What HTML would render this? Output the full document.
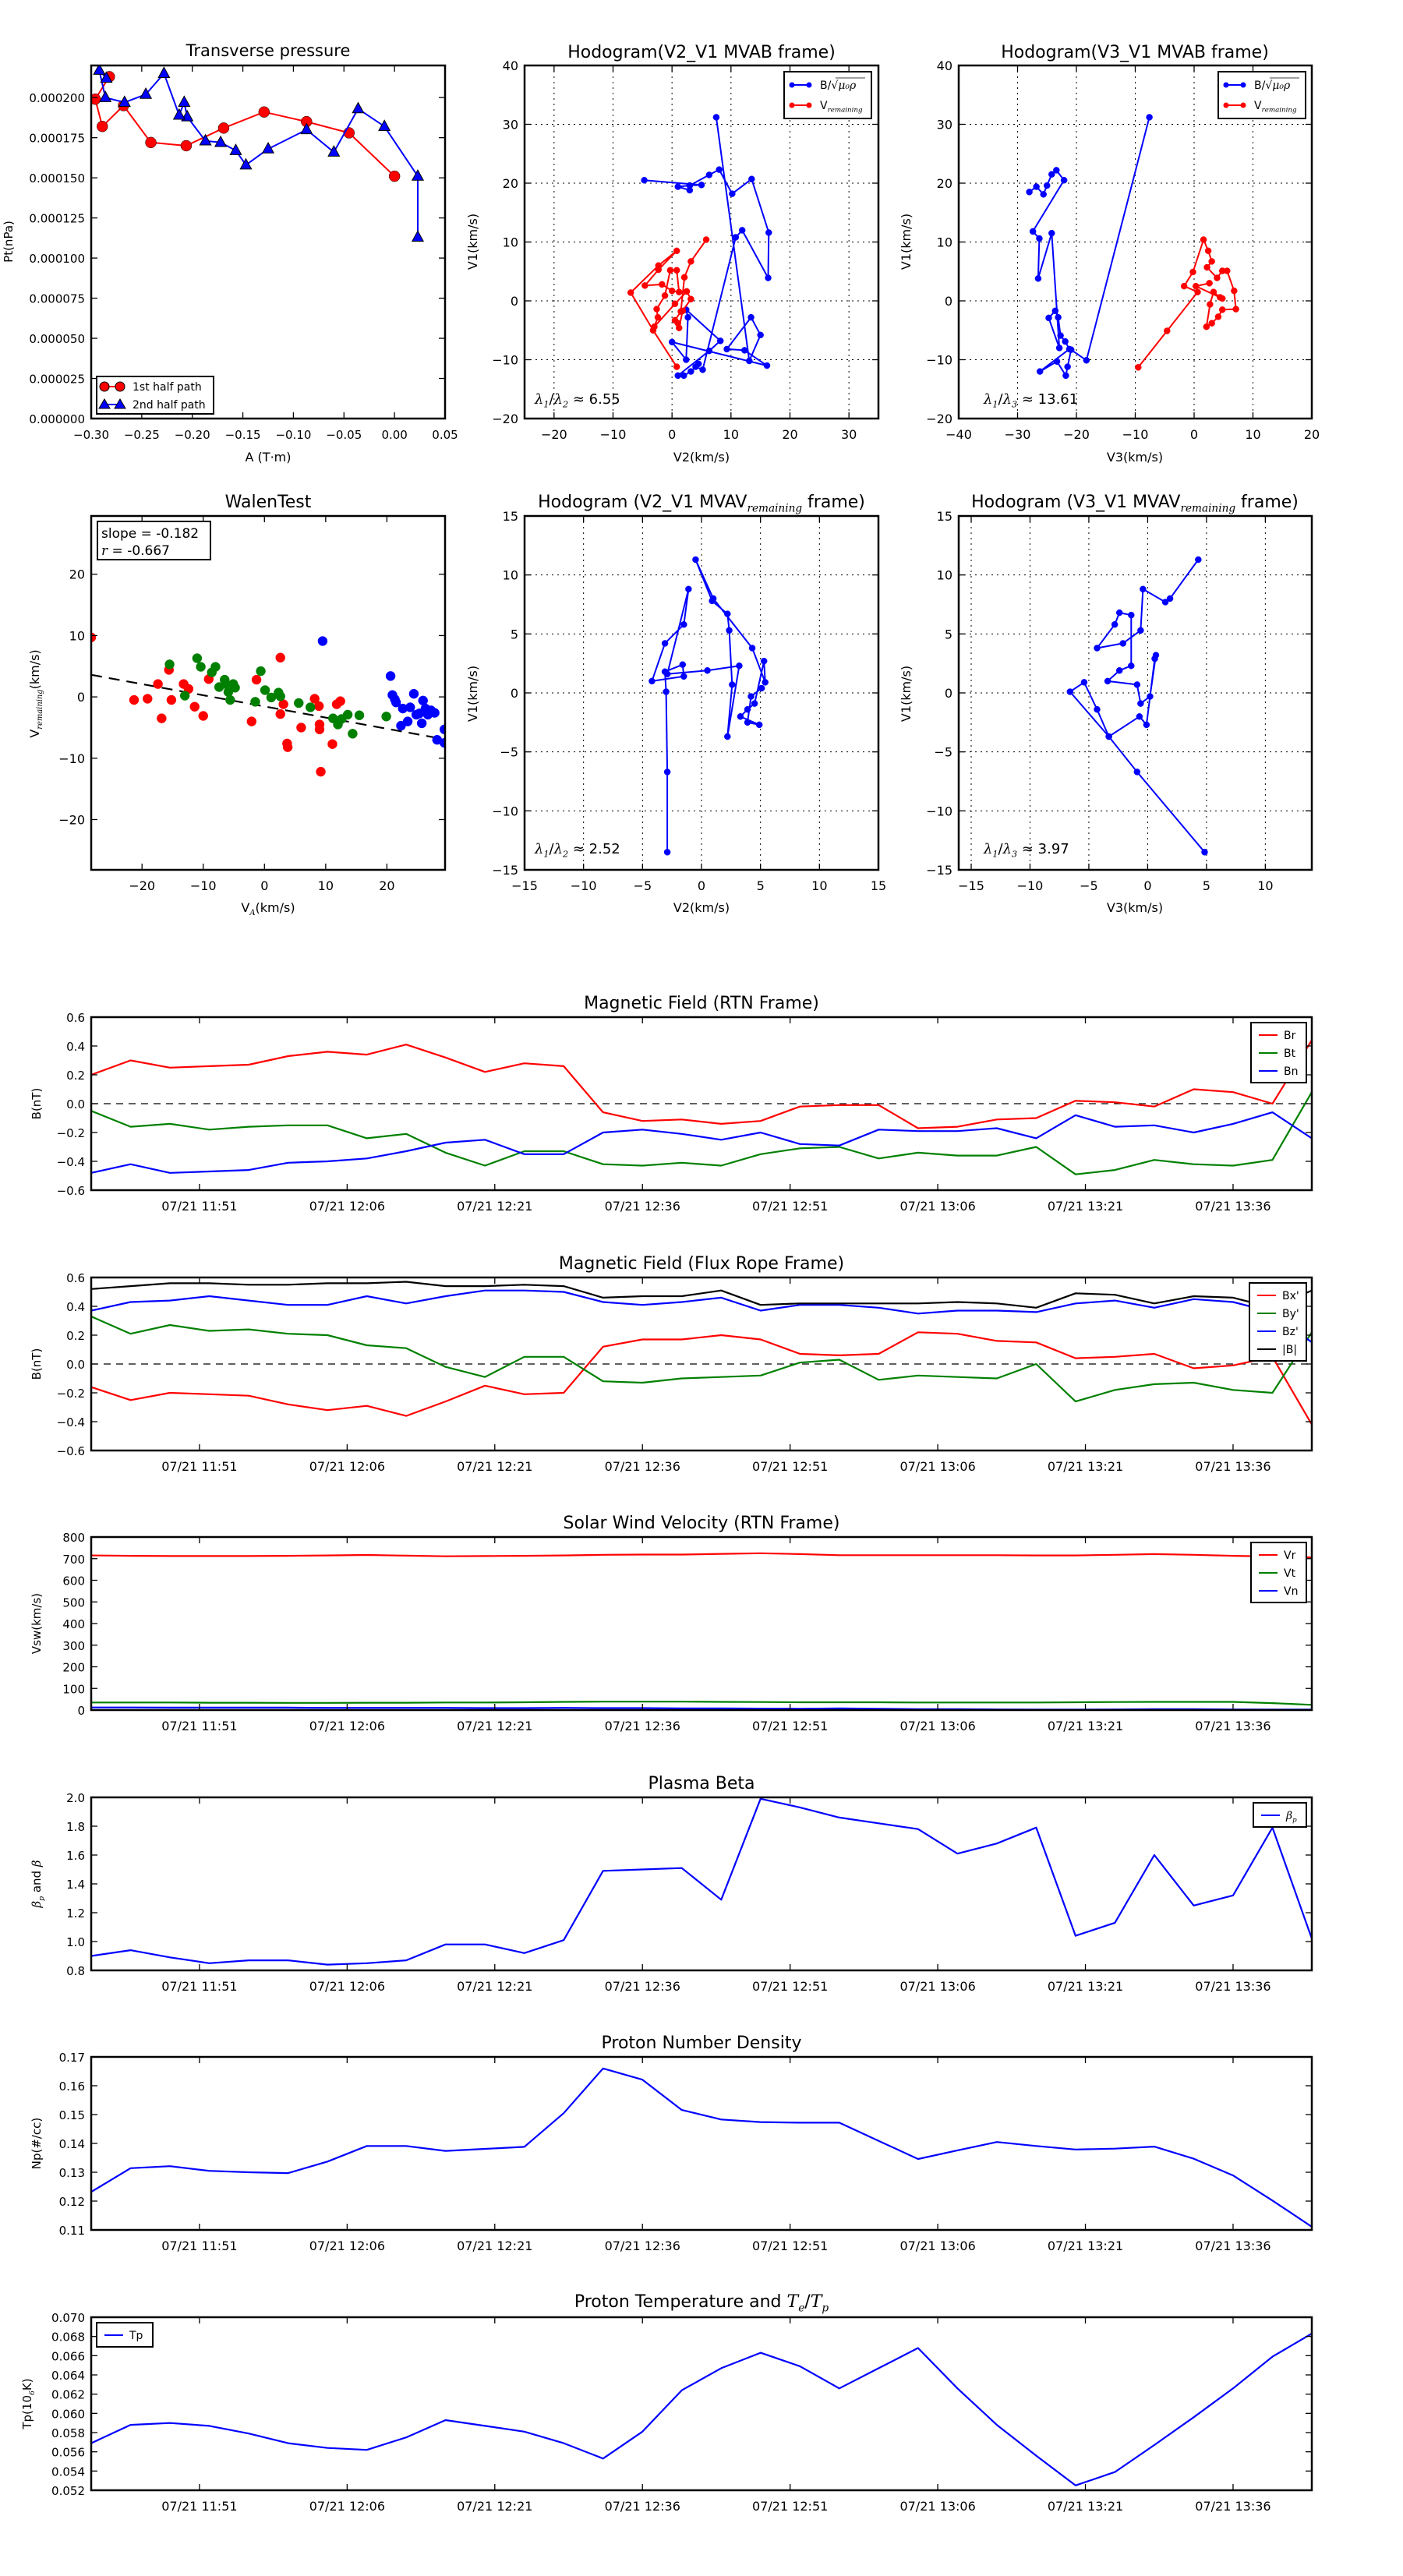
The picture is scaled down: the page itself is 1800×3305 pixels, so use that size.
<!DOCTYPE html>
<html><head><meta charset="utf-8"><title>Flux rope analysis</title>
<style>
html,body{margin:0;padding:0;background:#fff;}
svg text{font-family:"DejaVu Sans","Liberation Sans",sans-serif;fill:#000;}
</style></head>
<body>
<svg id="fig" xmlns="http://www.w3.org/2000/svg" width="1800" height="3300" viewBox="0 0 1800 3300"></svg>
<script>
// ---------- time series data (32 samples every 4 min starting 11:40) ----------
const timeMinutes = [0,4,8,12,16,20,24,28,32,36,40,44,48,52,56,60,64,68,72,76,80,84,88,92,96,100,104,108,112,116,120,124];
const timeTickMinutes = [11,26,41,56,71,86,101,116];
const timeTickLabels = ["07/21 11:51","07/21 12:06","07/21 12:21","07/21 12:36","07/21 12:51","07/21 13:06","07/21 13:21","07/21 13:36"];
const Br = [0.20,0.30,0.25,0.26,0.27,0.33,0.36,0.34,0.41,0.32,0.22,0.28,0.26,-0.06,-0.12,-0.11,-0.14,-0.12,-0.02,-0.01,-0.01,-0.17,-0.16,-0.11,-0.10,0.02,0.01,-0.02,0.10,0.08,0.00,0.44];
const Bt = [-0.05,-0.16,-0.14,-0.18,-0.16,-0.15,-0.15,-0.24,-0.21,-0.34,-0.43,-0.33,-0.33,-0.42,-0.43,-0.41,-0.43,-0.35,-0.31,-0.30,-0.38,-0.34,-0.36,-0.36,-0.30,-0.49,-0.46,-0.39,-0.42,-0.43,-0.39,0.08];
const Bn = [-0.48,-0.42,-0.48,-0.47,-0.46,-0.41,-0.40,-0.38,-0.33,-0.27,-0.25,-0.35,-0.35,-0.20,-0.18,-0.21,-0.25,-0.20,-0.28,-0.29,-0.18,-0.19,-0.19,-0.17,-0.24,-0.08,-0.16,-0.15,-0.20,-0.14,-0.06,-0.24];
const Bxp = [-0.16,-0.25,-0.20,-0.21,-0.22,-0.28,-0.32,-0.29,-0.36,-0.26,-0.15,-0.21,-0.20,0.12,0.17,0.17,0.20,0.17,0.07,0.06,0.07,0.22,0.21,0.16,0.15,0.04,0.05,0.07,-0.03,-0.01,0.05,-0.42];
const Byp = [0.33,0.21,0.27,0.23,0.24,0.21,0.20,0.13,0.11,-0.02,-0.09,0.05,0.05,-0.12,-0.13,-0.10,-0.09,-0.08,0.01,0.03,-0.11,-0.08,-0.09,-0.10,0.00,-0.26,-0.18,-0.14,-0.13,-0.18,-0.20,0.22];
const Bzp = [0.37,0.43,0.44,0.47,0.44,0.41,0.41,0.47,0.42,0.47,0.51,0.51,0.50,0.43,0.41,0.43,0.46,0.37,0.41,0.41,0.39,0.35,0.37,0.37,0.36,0.42,0.44,0.39,0.45,0.43,0.36,0.15];
const Bmag = [0.52,0.54,0.56,0.56,0.55,0.55,0.56,0.56,0.57,0.54,0.54,0.55,0.54,0.46,0.47,0.47,0.51,0.41,0.42,0.42,0.42,0.42,0.43,0.42,0.39,0.49,0.48,0.42,0.47,0.46,0.39,0.51];
const Vr = [715,713,712,712,712,713,715,717,714,711,712,713,715,718,719,719,722,725,721,716,716,716,716,716,715,715,718,721,718,713,710,706];
const Vt = [35,35,35,34,34,33,33,34,34,35,35,36,38,39,39,39,38,37,36,36,36,35,35,35,35,36,37,38,38,38,32,24];
const Vn = [12,12,11,11,11,11,10,10,10,10,9,9,10,9,9,8,8,7,6,8,6,4,4,3,2,2,3,4,4,3,2,2];
const betaP = [0.90,0.94,0.89,0.85,0.87,0.87,0.84,0.85,0.87,0.98,0.98,0.92,1.01,1.49,1.50,1.51,1.29,1.99,1.93,1.86,1.82,1.78,1.61,1.68,1.79,1.04,1.13,1.60,1.25,1.32,1.79,1.02];
const Np = [0.1232,0.1314,0.1321,0.1305,0.1300,0.1297,0.1337,0.1391,0.1391,0.1374,0.1381,0.1388,0.1505,0.1660,0.1621,0.1516,0.1483,0.1474,0.1472,0.1472,0.1409,0.1346,0.1376,0.1405,0.1391,0.1379,0.1382,0.1389,0.1347,0.1289,0.1202,0.1111];
const Tp = [0.0569,0.0588,0.0590,0.0587,0.0579,0.0569,0.0564,0.0562,0.0575,0.0593,0.0587,0.0581,0.0569,0.0553,0.0581,0.0624,0.0647,0.0663,0.0649,0.0626,0.0647,0.0668,0.0626,0.0588,0.0556,0.0525,0.0539,0.0567,0.0596,0.0626,0.0659,0.0683];

// ---------- transverse pressure ----------
const ptA1 = [-0.282,-0.296,-0.289,-0.268,-0.241,-0.206,-0.169,-0.129,-0.087,-0.045,0.000];
const ptP1 = [0.000213,0.000199,0.000182,0.000195,0.000172,0.000170,0.000181,0.000191,0.000185,0.000178,0.000151];
const ptA2 = [0.023,0.023,-0.010,-0.036,-0.060,-0.087,-0.125,-0.147,-0.157,-0.172,-0.187,-0.205,-0.208,-0.213,-0.228,-0.246,-0.267,-0.286,-0.292,-0.285];
const ptP2 = [0.000113,0.000151,0.000182,0.000193,0.000166,0.000180,0.000168,0.000158,0.000167,0.000172,0.000173,0.000188,0.000197,0.000189,0.000215,0.000202,0.000197,0.000200,0.000217,0.000212];

// ---------- hodograms MVAB ----------
const hB2x = [-4.7,5.0,3.0,1.0,3.0,3.0,6.3,8.0,10.2,13.5,16.4,16.3,11.9,10.8,5.2,4.0,4.5,3.2,2.0,1.0,6.3,8.2,2.4,2.7,2.4,0.0,16.1,12.3,9.3,13.4,15.0,13.1,7.5];
const hB2y = [20.5,19.7,19.6,19.4,18.8,19.6,21.4,22.3,18.2,20.7,11.6,3.9,12.0,10.8,-11.7,-11.2,-10.7,-12.0,-12.7,-12.7,-8.5,-6.8,-1.5,-2.8,-10.0,-7.0,-11.0,-8.4,-8.2,-2.8,-5.8,-10.2,31.2];
const hR2x = [0.8,-3.2,-7.0,-2.3,0.8,-2.3,-4.6,-1.7,0.0,1.2,0.8,-0.3,-1.2,-2.6,-2.4,-3.0,0.5,2.5,3.2,1.8,1.2,1.0,0.5,1.5,2.1,3.2,5.8];
const hR2y = [-11.2,-5.0,1.4,6.0,8.5,5.3,2.6,2.8,1.7,1.5,5.2,5.2,0.9,-1.4,-2.8,-4.4,-0.5,1.6,0.3,-1.7,-4.6,-3.8,-3.3,-1.8,4.0,6.7,10.4];
const hB3x = [-7.6,-18.3,-20.9,-21.5,-21.8,-23.3,-26.2,-21.2,-21.9,-22.7,-23.1,-23.6,-24.7,-22.9,-24.2,-26.5,-26.3,-27.4,-22.1,-23.4,-24.2,-25.0,-25.6,-26.8,-28.0];
const hB3y = [31.2,-10.1,-8.3,-11.2,-12.7,-10.3,-12.0,-8.2,-6.9,-5.9,-2.8,-1.7,-2.9,-8.0,11.5,3.8,10.6,11.8,20.5,22.2,21.5,19.6,18.1,19.4,18.5];
const hR3x = [-9.5,-4.6,0.6,-1.7,-0.2,1.6,2.4,3.0,2.2,3.9,4.8,5.6,6.8,7.1,4.8,4.1,3.0,2.1,2.7,3.3,4.4,4.8,0.3,2.6];
const hR3y = [-11.3,-5.1,1.5,2.5,4.9,10.4,8.5,6.7,5.7,3.9,5.1,5.1,1.7,-1.4,-1.5,-2.7,-3.8,-4.4,-0.6,1.5,0.6,0.4,2.5,3.0];

// ---------- Walen test ----------
const walRx = [-28.3,-21.3,-19.1,-17.4,-16.8,-15.6,-15.2,-13.2,-12.4,-11.4,-10.0,-9.1,-2.1,-1.3,2.6,2.6,3.1,3.7,3.8,6.0,8.2,8.9,9.0,9.0,9.2,11.1,11.8,12.4];
const walRy = [9.7,-0.5,-0.3,2.1,-3.5,4.4,-0.5,2.1,1.3,-1.6,-3.1,2.9,-4.0,2.8,6.4,-2.8,-1.2,-7.6,-8.2,-5.0,-0.3,-1.5,-4.5,-5.3,-12.2,-7.7,-1.2,-0.7];
const walGx = [-15.5,-13.0,-11.0,-10.4,-8.6,-8.0,-7.4,-6.5,-6.3,-5.9,-5.6,-5.1,-4.8,-1.5,-0.6,0.1,1.1,2.3,2.6,5.6,7.5,11.2,12.0,12.6,13.6,14.4,15.5,19.9];
const walGy = [5.3,0.2,6.3,4.9,4.0,4.9,1.6,2.8,2.1,0.8,-0.5,2.1,1.5,-0.8,4.2,1.1,-0.1,0.7,0.1,-1.0,-1.7,-3.5,-4.5,-3.6,-2.9,-6.0,-3.0,-3.2];
const walBx = [9.5,20.6,20.9,21.3,21.5,22.3,22.6,23.4,23.8,24.4,24.8,25.3,25.7,25.9,26.3,26.7,27.2,27.8,28.2,29.4,29.4];
const walBy = [9.1,3.4,0.3,-0.4,-0.9,-4.7,-1.9,-4.0,-1.7,0.5,-2.9,-2.7,-4.3,-0.6,-1.9,-2.9,-2.2,-2.6,-7.0,-5.3,-7.5];
const walSlope = [-0.182];
const walIntercept = [-1.55];

// ---------- hodograms MVAV ----------
const hV2x = [-2.9,-2.9,-3.0,-3.1,-1.6,-1.5,-4.2,-3.1,-1.5,-1.1,-2.9,0.5,3.2,2.2,2.6,2.35,2.2,0.9,-0.5,1.0,4.3,5.4,5.3,4.5,3.9,3.3,4.9,3.9,4.2,5.1];
const hV2y = [-13.5,-6.7,0.1,1.8,2.4,1.4,1.0,4.2,5.8,8.8,1.6,1.9,2.3,-3.7,0.7,5.3,6.7,7.8,11.3,8.0,3.8,0.9,2.7,-0.9,-1.4,-2.0,-2.7,-2.5,-0.3,0.4];
const hV3x = [4.84,-0.9,-3.3,-4.3,-5.4,-6.6,-3.3,-0.7,-0.1,0.6,0.7,0.2,-0.6,-0.9,-3.4,-2.4,-1.4,-1.4,-2.4,-2.8,-4.3,-2.1,-0.6,-0.4,1.5,1.9,4.3];
const hV3y = [-13.5,-6.7,-3.7,-1.4,0.9,0.1,-3.7,-2.0,-2.7,2.9,3.2,-0.3,-0.9,0.7,1.0,1.9,2.3,6.6,6.8,5.8,3.8,4.2,5.3,8.8,7.7,8.0,11.3];

const NS = "http://www.w3.org/2000/svg";
const svg = document.getElementById('fig');
let clipId = 0;
function mk(tag, attrs, parent, name){
  const e = document.createElementNS(NS, tag);
  for (const k in attrs) e.setAttribute(k, attrs[k]);
  
  
  (parent || svg).appendChild(e);
  return e;
}
function txt(x, y, s, size, anchor, parent, name, extra){
  const a = {x:x, y:y, 'font-size':size, 'text-anchor':anchor||'middle'};
  if (extra) for (const k in extra) a[k] = extra[k];
  const t = mk('text', a, parent, name);
  t.textContent = s;
  return t;
}
function rich(x, y, parts, size, anchor, parent, name, extra){
  const a = {x:x, y:y, 'font-size':size, 'text-anchor':anchor||'middle'};
  if (extra) for (const k in extra) a[k] = extra[k];
  const t = mk('text', a, parent, name);
  parts.forEach(p => {
    const s = document.createElementNS(NS, 'tspan');
    s.textContent = p[0];
    if (p[1] === 'sub') { s.setAttribute('font-size', size*0.62); s.setAttribute('font-style','italic'); s.setAttribute('font-family','"DejaVu Serif","Liberation Serif",serif'); s.setAttribute('dy', size*0.25); }
    if (p[1] === 'back') { s.setAttribute('dy', -size*0.25); }
    if (p[1] === 'it') { s.setAttribute('font-style','italic'); s.setAttribute('font-family','"DejaVu Serif","Liberation Serif",serif'); }
    t.appendChild(s);
  });
  return t;
}
function fmtMinus(v, d){ const s = v.toFixed(d); return s.replace('-', '\u2212'); }

function makeAxes(name, x0, y0, w, h, xmin, xmax, ymin, ymax){
  const g = mk('g', {}, svg, name);
  const X = v => x0 + (v - xmin) / (xmax - xmin) * w;
  const Y = v => y0 + h - (v - ymin) / (ymax - ymin) * h;
  const id = 'clip' + (clipId++);
  const defs = mk('defs', {}, g, name + '-defs');
  const cp = mk('clipPath', {id:id}, defs, name + '-clip');
  mk('rect', {x:x0, y:y0, width:w, height:h}, cp, name + '-clip-rect');
  const plot = mk('g', {'clip-path':'url(#'+id+')'}, g, name + '-plot-area');
  return {g, plot, X, Y, x0, y0, w, h, name};
}
function frame(ax){
  mk('rect', {x:ax.x0, y:ax.y0, width:ax.w, height:ax.h, fill:'none', stroke:'#000', 'stroke-width':2.5}, ax.g, ax.name + '-frame');
}
function yTicks(ax, vals, labels, size){
  vals.forEach((v, i) => {
    const y = ax.Y(v);
    mk('line', {x1:ax.x0, x2:ax.x0+8, y1:y, y2:y, stroke:'#000', 'stroke-width':1.3}, ax.g, 'y-tick');
    mk('line', {x1:ax.x0+ax.w-8, x2:ax.x0+ax.w, y1:y, y2:y, stroke:'#000', 'stroke-width':1.3}, ax.g, 'y-tick-right');
    txt(ax.x0 - 8, y + 6, labels[i], size||16, 'end', ax.g, 'y-tick-label');
  });
}
function xTicks(ax, vals, labels, size){
  vals.forEach((v, i) => {
    const x = ax.X(v);
    mk('line', {x1:x, x2:x, y1:ax.y0+ax.h, y2:ax.y0+ax.h-8, stroke:'#000', 'stroke-width':1.3}, ax.g, 'x-tick');
    mk('line', {x1:x, x2:x, y1:ax.y0, y2:ax.y0+8, stroke:'#000', 'stroke-width':1.3}, ax.g, 'x-tick-top');
    txt(x, ax.y0 + ax.h + 26, labels[i], size||16, 'middle', ax.g, 'x-tick-label');
  });
}
function grid(ax, xv, yv){
  xv.forEach(v => mk('line', {x1:ax.X(v), x2:ax.X(v), y1:ax.y0, y2:ax.y0+ax.h, stroke:'#000', 'stroke-width':1, 'stroke-dasharray':'2,5'}, ax.plot, 'grid-line-x'));
  yv.forEach(v => mk('line', {x1:ax.x0, x2:ax.x0+ax.w, y1:ax.Y(v), y2:ax.Y(v), stroke:'#000', 'stroke-width':1, 'stroke-dasharray':'2,5'}, ax.plot, 'grid-line-y'));
}
function line(ax, xs, ys, color, name, width){
  const pts = xs.map((x, i) => ax.X(x).toFixed(1) + ',' + ax.Y(ys[i]).toFixed(1)).join(' ');
  return mk('polyline', {points:pts, fill:'none', stroke:color, 'stroke-width':width||2.2, 'stroke-linejoin':'round'}, ax.plot, name);
}
function dots(ax, xs, ys, color, r, name){
  xs.forEach((x, i) => mk('circle', {cx:ax.X(x), cy:ax.Y(ys[i]), r:r, fill:color, stroke:color, 'stroke-width':0.5}, ax.plot, name));
}
function tris(ax, xs, ys, color, s, name){
  xs.forEach((x, i) => { const cx = ax.X(x), cy = ax.Y(ys[i]);
    mk('polygon', {points:`${cx},${cy-s} ${cx-s*0.9},${cy+s*0.65} ${cx+s*0.9},${cy+s*0.65}`, fill:color, stroke:'#000', 'stroke-width':1}, ax.plot, name); });
}
function ylabel(x, y, s, size, parent, name){
  return txt(x, y, s, size||16, 'middle', parent, name, {transform:`rotate(-90 ${x} ${y})`});
}
function legendBox(x, y, w, h, parent, name){
  return mk('rect', {x:x, y:y, width:w, height:h, fill:'#fff', stroke:'#000', 'stroke-width':2}, parent, name);
}

// ================= Row 1 =================
// Transverse pressure
(function(){
  const ax = makeAxes('transverse-pressure-chart', 117, 84, 454, 453, -0.30, 0.05, 0, 0.00022);
  line(ax, ptA1, ptP1, '#ff0000', 'first-half-path-line', 2);
  dots(ax, ptA1, ptP1, '#ff0000', 7, 'first-half-marker');
  ax.plot.querySelectorAll('circle').forEach(c => c.setAttribute('stroke', '#000'));
  line(ax, ptA2, ptP2, '#0000ff', 'second-half-path-line', 2);
  tris(ax, ptA2, ptP2, '#0000ff', 8, 'second-half-marker');
  frame(ax);
  const yv = [0,0.000025,0.00005,0.000075,0.0001,0.000125,0.00015,0.000175,0.0002];
  yTicks(ax, yv, yv.map(v => v.toFixed(6)), 15);
  const xv = [-0.30,-0.25,-0.20,-0.15,-0.10,-0.05,0.00,0.05];
  xTicks(ax, xv, xv.map(v => fmtMinus(v, 2)), 15);
  txt(344, 72, 'Transverse pressure', 21, 'middle', ax.g, 'transverse-pressure-title');
  txt(344, 592, 'A (T·m)', 16, 'middle', ax.g, 'x-axis-title');
  ylabel(16, 310, 'Pt(nPa)', 15, ax.g, 'y-axis-title');
  const lg = mk('g', {}, ax.g, 'legend');
  legendBox(124, 483, 150, 48, lg, 'legend-box');
  mk('line', {x1:134, x2:154, y1:496, y2:496, stroke:'#ff0000', 'stroke-width':2}, lg, 'legend-line-first');
  mk('circle', {cx:134, cy:496, r:6, fill:'#ff0000', stroke:'#000'}, lg, 'legend-marker-first');
  mk('circle', {cx:154, cy:496, r:6, fill:'#ff0000', stroke:'#000'}, lg, 'legend-marker-first');
  txt(170, 501, '1st half path', 14, 'start', lg, 'legend-entry-first');
  mk('line', {x1:134, x2:154, y1:519, y2:519, stroke:'#0000ff', 'stroke-width':2}, lg, 'legend-line-second');
  mk('polygon', {points:'134,512 127,524 141,524', fill:'#0000ff', stroke:'#000'}, lg, 'legend-marker-second');
  mk('polygon', {points:'154,512 147,524 161,524', fill:'#0000ff', stroke:'#000'}, lg, 'legend-marker-second');
  txt(170, 524, '2nd half path', 14, 'start', lg, 'legend-entry-second');
})();

function hodoLegend(ax, x, y){
  const lg = mk('g', {}, ax.g, 'legend');
  legendBox(x, y, 112, 60, lg, 'legend-box');
  mk('line', {x1:x+10, x2:x+32, y1:y+17, y2:y+17, stroke:'#0000ff', 'stroke-width':2}, lg, 'legend-line-b');
  mk('circle', {cx:x+10, cy:y+17, r:3.5, fill:'#0000ff'}, lg, 'legend-marker-b');
  mk('circle', {cx:x+32, cy:y+17, r:3.5, fill:'#0000ff'}, lg, 'legend-marker-b');
  rich(x+46, y+22, [['B/√'],['μ₀ρ','it']], 14, 'start', lg, 'legend-entry-b-field', {'text-decoration':'none'});
  mk('line', {x1:x+66, x2:x+104, y1:y+8, y2:y+8, stroke:'#000', 'stroke-width':0.8}, lg, 'legend-sqrt-bar');
  mk('line', {x1:x+10, x2:x+32, y1:y+43, y2:y+43, stroke:'#ff0000', 'stroke-width':2}, lg, 'legend-line-v');
  mk('circle', {cx:x+10, cy:y+43, r:3.5, fill:'#ff0000'}, lg, 'legend-marker-v');
  mk('circle', {cx:x+32, cy:y+43, r:3.5, fill:'#ff0000'}, lg, 'legend-marker-v');
  rich(x+46, y+48, [['V'],['remaining','sub']], 14, 'start', lg, 'legend-entry-v-remaining');
}
function ticksRange(a, b, s){ const r = []; for (let v = a; v <= b + 1e-9; v += s) r.push(Math.round(v*100)/100); return r; }

// Hodogram V2_V1 MVAB
(function(){
  const ax = makeAxes('hodogram-v2-v1-mvab', 673, 84, 454, 453, -25, 35, -20, 40);
  const xv = ticksRange(-20, 30, 10), yv = ticksRange(-20, 40, 10);
  grid(ax, xv, yv);
  line(ax, hB2x, hB2y, '#0000ff', 'b-field-hodogram-line', 2);
  dots(ax, hB2x, hB2y, '#0000ff', 4, 'b-field-point');
  line(ax, hR2x, hR2y, '#ff0000', 'v-remaining-hodogram-line', 2);
  dots(ax, hR2x, hR2y, '#ff0000', 4, 'v-remaining-point');
  frame(ax);
  yTicks(ax, yv, yv.map(v => fmtMinus(v, 0)), 16);
  xTicks(ax, xv, xv.map(v => fmtMinus(v, 0)), 16);
  txt(900, 74, 'Hodogram(V2_V1 MVAB frame)', 22, 'middle', ax.g, 'hodogram-v2-mvab-title');
  txt(900, 592, 'V2(km/s)', 16, 'middle', ax.g, 'x-axis-title');
  ylabel(612, 310, 'V1(km/s)', 16, ax.g, 'y-axis-title');
  rich(686, 518, [['λ','it'],['1','sub'],['/','back'],['λ','it'],['2','sub'],[' ≈ 6.55','back']], 18, 'start', ax.g, 'eigenvalue-ratio-label');
  hodoLegend(ax, 1006, 92);
})();

// Hodogram V3_V1 MVAB
(function(){
  const ax = makeAxes('hodogram-v3-v1-mvab', 1230, 84, 453, 453, -40, 20, -20, 40);
  const xv = ticksRange(-40, 20, 10), yv = ticksRange(-20, 40, 10);
  grid(ax, xv, yv);
  line(ax, hB3x, hB3y, '#0000ff', 'b-field-hodogram-line', 2);
  dots(ax, hB3x, hB3y, '#0000ff', 4, 'b-field-point');
  line(ax, hR3x, hR3y, '#ff0000', 'v-remaining-hodogram-line', 2);
  dots(ax, hR3x, hR3y, '#ff0000', 4, 'v-remaining-point');
  frame(ax);
  yTicks(ax, yv, yv.map(v => fmtMinus(v, 0)), 16);
  xTicks(ax, xv, xv.map(v => fmtMinus(v, 0)), 16);
  txt(1456, 74, 'Hodogram(V3_V1 MVAB frame)', 22, 'middle', ax.g, 'hodogram-v3-mvab-title');
  txt(1456, 592, 'V3(km/s)', 16, 'middle', ax.g, 'x-axis-title');
  ylabel(1168, 310, 'V1(km/s)', 16, ax.g, 'y-axis-title');
  rich(1262, 518, [['λ','it'],['1','sub'],['/','back'],['λ','it'],['3','sub'],[' ≈ 13.61','back']], 18, 'start', ax.g, 'eigenvalue-ratio-label');
  hodoLegend(ax, 1563, 92);
})();

// ================= Row 2 =================
// Walen test
(function(){
  const ax = makeAxes('walen-test-chart', 117, 662, 454, 454, -28.3, 29.5, -28.2, 29.5);
  const lx = [-28.3, 29.5];
  const ly = lx.map(v => walSlope[0]*v + walIntercept[0]);
  mk('line', {x1:ax.X(lx[0]), y1:ax.Y(ly[0]), x2:ax.X(lx[1]), y2:ax.Y(ly[1]), stroke:'#000', 'stroke-width':2.2, 'stroke-dasharray':'14,9'}, ax.plot, 'regression-fit-line');
  dots(ax, walRx, walRy, '#ff0000', 6, 'walen-point-red');
  dots(ax, walGx, walGy, '#008000', 6, 'walen-point-green');
  dots(ax, walBx, walBy, '#0000ff', 6, 'walen-point-blue');
  frame(ax);
  const tv = [-20,-10,0,10,20];
  yTicks(ax, tv, tv.map(v => fmtMinus(v, 0)), 16);
  xTicks(ax, tv, tv.map(v => fmtMinus(v, 0)), 16);
  txt(344, 651, 'WalenTest', 22, 'middle', ax.g, 'walen-test-title');
  rich(344, 1170, [['V'],['A','sub'],['(km/s)','back']], 16, 'middle', ax.g, 'x-axis-title');
  rich(50, 890, [['V'],['remaining','sub'],['(km/s)','back']], 16, 'middle', ax.g, 'y-axis-title', {transform:'rotate(-90 50 890)'});
  legendBox(125, 669, 145, 49, ax.g, 'stats-box');
  txt(130, 690, 'slope = -0.182', 17, 'start', ax.g, 'slope-label');
  rich(130, 712, [['r','it'],[' = -0.667']], 17, 'start', ax.g, 'correlation-label');
})();

// Hodogram V2_V1 MVAV
(function(){
  const ax = makeAxes('hodogram-v2-v1-mvav', 673, 662, 454, 454, -15, 15, -15, 15);
  const tv = ticksRange(-15, 15, 5);
  grid(ax, tv, tv);
  line(ax, hV2x, hV2y, '#0000ff', 'v-hodogram-line', 2);
  dots(ax, hV2x, hV2y, '#0000ff', 4, 'v-hodogram-point');
  frame(ax);
  yTicks(ax, tv, tv.map(v => fmtMinus(v, 0)), 16);
  xTicks(ax, tv, tv.map(v => fmtMinus(v, 0)), 16);
  rich(900, 651, [['Hodogram (V2_V1 MVAV'],['remaining','sub'],[' frame)','back']], 22, 'middle', ax.g, 'hodogram-v2-mvav-title');
  txt(900, 1170, 'V2(km/s)', 16, 'middle', ax.g, 'x-axis-title');
  ylabel(612, 890, 'V1(km/s)', 16, ax.g, 'y-axis-title');
  rich(686, 1095, [['λ','it'],['1','sub'],['/','back'],['λ','it'],['2','sub'],[' ≈ 2.52','back']], 18, 'start', ax.g, 'eigenvalue-ratio-label');
})();

// Hodogram V3_V1 MVAV
(function(){
  const ax = makeAxes('hodogram-v3-v1-mvav', 1230, 662, 453, 454, -16.06, 13.95, -15, 15);
  const xv = ticksRange(-15, 10, 5), yv = ticksRange(-15, 15, 5);
  grid(ax, xv, yv);
  line(ax, hV3x, hV3y, '#0000ff', 'v-hodogram-line', 2);
  dots(ax, hV3x, hV3y, '#0000ff', 4, 'v-hodogram-point');
  frame(ax);
  yTicks(ax, yv, yv.map(v => fmtMinus(v, 0)), 16);
  xTicks(ax, xv, xv.map(v => fmtMinus(v, 0)), 16);
  rich(1456, 651, [['Hodogram (V3_V1 MVAV'],['remaining','sub'],[' frame)','back']], 22, 'middle', ax.g, 'hodogram-v3-mvav-title');
  txt(1456, 1170, 'V3(km/s)', 16, 'middle', ax.g, 'x-axis-title');
  ylabel(1168, 890, 'V1(km/s)', 16, ax.g, 'y-axis-title');
  rich(1262, 1095, [['λ','it'],['1','sub'],['/','back'],['λ','it'],['3','sub'],[' ≈ 3.97','back']], 18, 'start', ax.g, 'eigenvalue-ratio-label');
})();

// ================= Time series =================
function timePanel(name, top, ymin, ymax, yv, ylabels, title, series, yl, ylx, zeroLine){
  const ax = makeAxes(name, 117, top, 1566, 222, 0, 124, ymin, ymax);
  if (zeroLine) mk('line', {x1:ax.x0, x2:ax.x0+ax.w, y1:ax.Y(0), y2:ax.Y(0), stroke:'#000', 'stroke-width':1.2, 'stroke-dasharray':'9,7'}, ax.plot, 'zero-reference-line');
  series.forEach(s => line(ax, timeMinutes, s.data, s.color, s.name, 2.2));
  frame(ax);
  yTicks(ax, yv, ylabels, 15);
  xTicks(ax, timeTickMinutes, timeTickLabels, 16);
  return ax;
}
function tsLegend(ax, x, y, w, entries, parent){
  const lg = mk('g', {}, ax.g, 'legend');
  legendBox(x, y, w, entries.length*23 + 8, lg, 'legend-box');
  entries.forEach((e, i) => {
    const yy = y + 16 + i*23;
    mk('line', {x1:x+10, x2:x+34, y1:yy, y2:yy, stroke:e.color, 'stroke-width':2}, lg, 'legend-line');
    if (e.parts) rich(x+42, yy+5, e.parts, 14, 'start', lg, 'legend-entry');
    else txt(x+42, yy+5, e.label, 14, 'start', lg, 'legend-entry');
  });
}
const bTicks = [-0.6,-0.4,-0.2,0,0.2,0.4,0.6];
const bLabels = bTicks.map(v => fmtMinus(v, 1));

(function(){
  const ax = timePanel('magnetic-field-rtn-chart', 1305, -0.6, 0.6, bTicks, bLabels, '', [
    {data:Br, color:'#ff0000', name:'br-line'}, {data:Bt, color:'#008000', name:'bt-line'}, {data:Bn, color:'#0000ff', name:'bn-line'}], null, null, true);
  txt(900, 1294, 'Magnetic Field (RTN Frame)', 22, 'middle', ax.g, 'magnetic-field-rtn-title');
  ylabel(52, 1416, 'B(nT)', 15, ax.g, 'y-axis-title');
  tsLegend(ax, 1605, 1312, 71, [{label:'Br', color:'#ff0000'},{label:'Bt', color:'#008000'},{label:'Bn', color:'#0000ff'}]);
})();
(function(){
  const ax = timePanel('magnetic-field-flux-rope-chart', 1639, -0.6, 0.6, bTicks, bLabels, '', [
    {data:Bxp, color:'#ff0000', name:'bx-prime-line'}, {data:Byp, color:'#008000', name:'by-prime-line'}, {data:Bzp, color:'#0000ff', name:'bz-prime-line'}, {data:Bmag, color:'#000000', name:'b-magnitude-line'}], null, null, true);
  txt(900, 1628, 'Magnetic Field (Flux Rope Frame)', 22, 'middle', ax.g, 'magnetic-field-flux-rope-title');
  ylabel(52, 1750, 'B(nT)', 15, ax.g, 'y-axis-title');
  tsLegend(ax, 1603, 1646, 73, [{label:"Bx'", color:'#ff0000'},{label:"By'", color:'#008000'},{label:"Bz'", color:'#0000ff'},{label:'|B|', color:'#000'}]);
})();
(function(){
  const yv = [0,100,200,300,400,500,600,700,800];
  const ax = timePanel('solar-wind-velocity-chart', 1972, 0, 800, yv, yv.map(String), '', [
    {data:Vr, color:'#ff0000', name:'vr-line'}, {data:Vt, color:'#008000', name:'vt-line'}, {data:Vn, color:'#0000ff', name:'vn-line'}], null, null, false);
  txt(900, 1961, 'Solar Wind Velocity (RTN Frame)', 22, 'middle', ax.g, 'solar-wind-velocity-title');
  ylabel(52, 2083, 'Vsw(km/s)', 15, ax.g, 'y-axis-title');
  tsLegend(ax, 1605, 1979, 71, [{label:'Vr', color:'#ff0000'},{label:'Vt', color:'#008000'},{label:'Vn', color:'#0000ff'}]);
})();
(function(){
  const yv = [0.8,1.0,1.2,1.4,1.6,1.8,2.0];
  const ax = timePanel('plasma-beta-chart', 2306, 0.8, 2.0, yv, yv.map(v => v.toFixed(1)), '', [
    {data:betaP, color:'#0000ff', name:'beta-p-line'}], null, null, false);
  txt(900, 2295, 'Plasma Beta', 22, 'middle', ax.g, 'plasma-beta-title');
  rich(52, 2417, [['β','it'],['p','sub'],[' and ','back'],['β','it']], 15, 'middle', ax.g, 'y-axis-title', {transform:'rotate(-90 52 2417)'});
  tsLegend(ax, 1608, 2313, 68, [{parts:[['β','it'],['p','sub']], color:'#0000ff'}]);
})();
(function(){
  const yv = [0.11,0.12,0.13,0.14,0.15,0.16,0.17];
  const ax = timePanel('proton-density-chart', 2639, 0.11, 0.17, yv, yv.map(v => v.toFixed(2)), '', [
    {data:Np, color:'#0000ff', name:'np-line'}], null, null, false);
  txt(900, 2628, 'Proton Number Density', 22, 'middle', ax.g, 'proton-density-title');
  ylabel(52, 2750, 'Np(#/cc)', 15, ax.g, 'y-axis-title');
})();
(function(){
  const yv = [0.052,0.054,0.056,0.058,0.060,0.062,0.064,0.066,0.068,0.070];
  const ax = timePanel('proton-temperature-chart', 2973, 0.052, 0.070, yv, yv.map(v => v.toFixed(3)), '', [
    {data:Tp, color:'#0000ff', name:'tp-line'}], null, null, false);
  rich(900, 2960, [['Proton Temperature and '],['T','it'],['e','sub'],['/','back'],['T','it'],['p','sub']], 22, 'middle', ax.g, 'proton-temperature-title');
  rich(40, 3084, [['Tp(10'],['6','sub'],['K)','back']], 15, 'middle', ax.g, 'y-axis-title', {transform:'rotate(-90 40 3084)'});
  tsLegend(ax, 124, 2980, 72, [{label:'Tp', color:'#0000ff'}]);
})();
</script>
</body></html>
